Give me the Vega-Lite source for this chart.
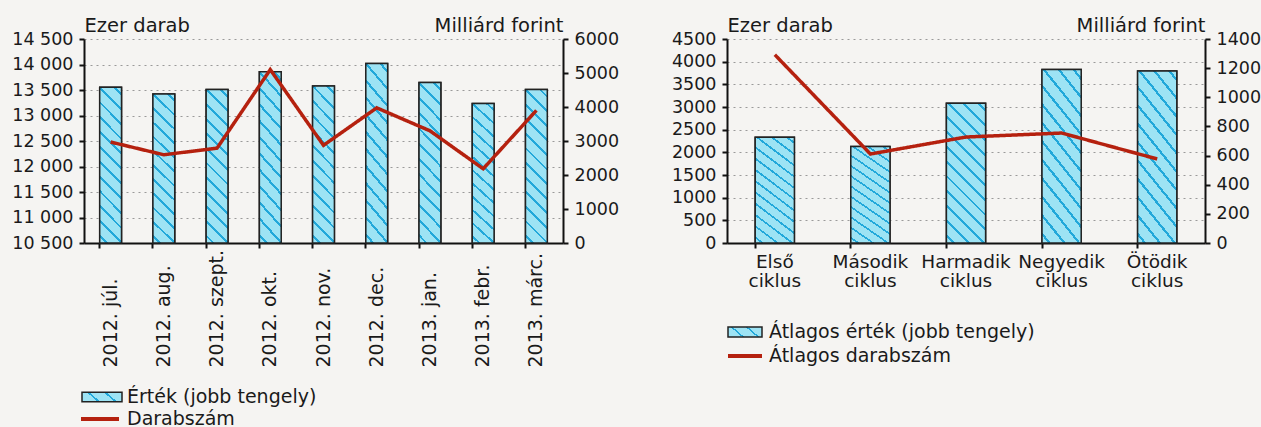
{
  "$schema": "https://vega.github.io/schema/vega-lite/v6.json",
  "background": "#f5f4f2",
  "padding": {"left": 11, "top": 15, "right": 0, "bottom": 0},
  "spacing": 52,
  "resolve": {"scale": {"stroke": "independent", "strokeDash": "independent"}, "legend": {"stroke": "independent", "strokeDash": "independent"}},
  "config": {
    "view": {"stroke": null},
    "font": "DejaVu Sans",
    "axis": {
      "labelFont": "DejaVu Sans", "labelFontSize": 17.5, "labelColor": "#1a1a1a",
      "titleFont": "DejaVu Sans", "titleFontSize": 19.5, "titleFontWeight": "normal", "titleColor": "#1a1a1a",
      "domainColor": "#111111", "domainWidth": 2, "tickColor": "#111111", "tickWidth": 2, "tickSize": 5,
      "labelPadding": 6, "grid": false
    },
    "legend": {"labelFont": "DejaVu Sans", "labelFontSize": 19, "labelColor": "#1a1a1a", "labelLimit": 400, "padding": 0}
  },
  "hconcat": [
    {
      "width": 479,
      "height": 204,
      "data": {"values": [
        {"honap": "2012. júl.", "darab": 12480, "ertek": 4580},
        {"honap": "2012. aug.", "darab": 12230, "ertek": 4385},
        {"honap": "2012. szept.", "darab": 12360, "ertek": 4515},
        {"honap": "2012. okt.", "darab": 13900, "ertek": 5035},
        {"honap": "2012. nov.", "darab": 12415, "ertek": 4620},
        {"honap": "2012. dec.", "darab": 13150, "ertek": 5280},
        {"honap": "2013. jan.", "darab": 12700, "ertek": 4720},
        {"honap": "2013. febr.", "darab": 11955, "ertek": 4100},
        {"honap": "2013. márc.", "darab": 13100, "ertek": 4515}
      ]},
      "resolve": {"scale": {"y": "independent"}, "axis": {"x": "independent"}},
      "layer": [
        {
          "mark": {"type": "bar", "strokeWidth": 1.5, "fill": {"gradient": "linear", "x1": 0, "y1": 1, "x2": 1.185, "y2": 0.674, "stops": [
            {"offset": 0, "color": "#9de3f4"}, {"offset": 0.31, "color": "#9de3f4"}, {"offset": 0.31, "color": "#22a8da"}, {"offset": 0.36, "color": "#22a8da"}, {"offset": 0.36, "color": "#9de3f4"},
            {"offset": 0.64, "color": "#9de3f4"}, {"offset": 0.64, "color": "#22a8da"}, {"offset": 0.69, "color": "#22a8da"}, {"offset": 0.69, "color": "#9de3f4"}, {"offset": 1, "color": "#9de3f4"}
          ]}},
          "encoding": {
            "x": {"field": "honap", "type": "nominal", "sort": null, "axis": null},
            "y": {"field": "ertek", "type": "quantitative", "scale": {"domain": [0, 6000], "nice": false}, "axis": null},
            "stroke": {"datum": "Érték (jobb tengely)",
              "scale": {"range": ["#222222"]},
              "legend": {"title": null, "orient": "none", "legendX": -3, "legendY": 337,
                "symbolType": "M-1,-0.24L1,-0.24L1,0.24L-1,0.24Z", "symbolSize": 1600, "symbolStrokeWidth": 1.5, "labelOffset": 4}}
          }
        },
        {
          "mark": {"type": "bar", "strokeWidth": 1.5, "stroke": "#222222", "fill": {"gradient": "linear", "x1": 0, "y1": 1, "x2": 0.159, "y2": -0.12, "stops": [
            {"offset": 0, "color": "#9de3f4"},
            {"offset": 0.0337, "color": "#9de3f4"}, {"offset": 0.0337, "color": "#22a8da"}, {"offset": 0.0497, "color": "#22a8da"}, {"offset": 0.0497, "color": "#9de3f4"},
            {"offset": 0.117, "color": "#9de3f4"}, {"offset": 0.117, "color": "#22a8da"}, {"offset": 0.133, "color": "#22a8da"}, {"offset": 0.133, "color": "#9de3f4"},
            {"offset": 0.2003, "color": "#9de3f4"}, {"offset": 0.2003, "color": "#22a8da"}, {"offset": 0.2163, "color": "#22a8da"}, {"offset": 0.2163, "color": "#9de3f4"},
            {"offset": 0.2837, "color": "#9de3f4"}, {"offset": 0.2837, "color": "#22a8da"}, {"offset": 0.2997, "color": "#22a8da"}, {"offset": 0.2997, "color": "#9de3f4"},
            {"offset": 0.367, "color": "#9de3f4"}, {"offset": 0.367, "color": "#22a8da"}, {"offset": 0.383, "color": "#22a8da"}, {"offset": 0.383, "color": "#9de3f4"},
            {"offset": 0.4503, "color": "#9de3f4"}, {"offset": 0.4503, "color": "#22a8da"}, {"offset": 0.4663, "color": "#22a8da"}, {"offset": 0.4663, "color": "#9de3f4"},
            {"offset": 0.5337, "color": "#9de3f4"}, {"offset": 0.5337, "color": "#22a8da"}, {"offset": 0.5497, "color": "#22a8da"}, {"offset": 0.5497, "color": "#9de3f4"},
            {"offset": 0.617, "color": "#9de3f4"}, {"offset": 0.617, "color": "#22a8da"}, {"offset": 0.633, "color": "#22a8da"}, {"offset": 0.633, "color": "#9de3f4"},
            {"offset": 0.7003, "color": "#9de3f4"}, {"offset": 0.7003, "color": "#22a8da"}, {"offset": 0.7163, "color": "#22a8da"}, {"offset": 0.7163, "color": "#9de3f4"},
            {"offset": 0.7837, "color": "#9de3f4"}, {"offset": 0.7837, "color": "#22a8da"}, {"offset": 0.7997, "color": "#22a8da"}, {"offset": 0.7997, "color": "#9de3f4"},
            {"offset": 0.867, "color": "#9de3f4"}, {"offset": 0.867, "color": "#22a8da"}, {"offset": 0.883, "color": "#22a8da"}, {"offset": 0.883, "color": "#9de3f4"},
            {"offset": 0.9503, "color": "#9de3f4"}, {"offset": 0.9503, "color": "#22a8da"}, {"offset": 0.9663, "color": "#22a8da"}, {"offset": 0.9663, "color": "#9de3f4"},
            {"offset": 1, "color": "#9de3f4"}
          ]}},
          "encoding": {
            "x": {"field": "honap", "type": "nominal", "sort": null,
              "scale": {"paddingInner": 0.59, "paddingOuter": 0.295},
              "axis": {"title": null, "orient": "bottom", "ticks": false, "tickSize": 0, "domain": true,
                "labelAngle": -90, "labelAlign": "left", "labelBaseline": "middle", "labelPadding": 124,
                "labelFontSize": 19, "labelOverlap": false, "labelBound": false, "labelLimit": 300}},
            "y": {"field": "ertek", "type": "quantitative",
              "scale": {"domain": [0, 6000], "nice": false},
              "axis": {"orient": "right", "values": [0, 1000, 2000, 3000, 4000, 5000, 6000], "format": "d",
                "title": "Milliárd forint", "titleAngle": 0, "titleX": 0, "titleY": -8, "titleAlign": "right", "titleBaseline": "alphabetic", "grid": false}}
          }
        },
        {
          "mark": {"type": "line", "strokeWidth": 3.5, "color": "#b5210f"},
          "encoding": {
            "x": {"field": "honap", "type": "nominal", "sort": null,
              "axis": {"title": null, "orient": "bottom", "labels": false, "ticks": true, "domain": false, "bandPosition": 0}},
            "y": {"field": "darab", "type": "quantitative",
              "scale": {"domain": [10500, 14500], "nice": false, "zero": false},
              "axis": {"orient": "left", "values": [10500, 11000, 11500, 12000, 12500, 13000, 13500, 14000, 14500],
                "labelExpr": "replace(format(datum.value, ','), ',', ' ')",
                "title": "Ezer darab", "titleAngle": 0, "titleX": 0, "titleY": -8, "titleAlign": "left", "titleBaseline": "alphabetic",
                "grid": true, "gridColor": "#9a9a9a", "gridDash": [2, 4], "gridWidth": 1}},
            "strokeDash": {"datum": "Darabszám",
              "scale": {"range": [[1, 0]]},
              "legend": {"title": null, "orient": "none", "legendX": -5, "legendY": 359,
                "symbolType": "stroke", "symbolSize": 1444, "symbolStrokeWidth": 4, "symbolStrokeColor": "#b5210f", "labelOffset": 6}}
          }
        }
      ]
    },
    {
      "width": 478,
      "height": 204,
      "data": {"values": [
        {"ciklus": "Első ciklus", "darab": 4154, "ertek": 725},
        {"ciklus": "Második ciklus", "darab": 1963, "ertek": 663},
        {"ciklus": "Harmadik ciklus", "darab": 2338, "ertek": 959},
        {"ciklus": "Negyedik ciklus", "darab": 2426, "ertek": 1190},
        {"ciklus": "Ötödik ciklus", "darab": 1853, "ertek": 1181}
      ]},
      "resolve": {"scale": {"y": "independent"}, "axis": {"x": "independent"}},
      "layer": [
        {
          "mark": {"type": "bar", "strokeWidth": 1.5, "fill": {"gradient": "linear", "x1": 0, "y1": 1, "x2": 1.203, "y2": 0.576, "stops": [
            {"offset": 0, "color": "#9de3f4"}, {"offset": 0.31, "color": "#9de3f4"}, {"offset": 0.31, "color": "#22a8da"}, {"offset": 0.36, "color": "#22a8da"}, {"offset": 0.36, "color": "#9de3f4"},
            {"offset": 0.64, "color": "#9de3f4"}, {"offset": 0.64, "color": "#22a8da"}, {"offset": 0.69, "color": "#22a8da"}, {"offset": 0.69, "color": "#9de3f4"}, {"offset": 1, "color": "#9de3f4"}
          ]}},
          "encoding": {
            "x": {"field": "ciklus", "type": "nominal", "sort": null, "axis": null},
            "y": {"field": "ertek", "type": "quantitative", "scale": {"domain": [0, 1400], "nice": false}, "axis": null},
            "stroke": {"datum": "Átlagos érték (jobb tengely)",
              "scale": {"range": ["#222222"]},
              "legend": {"title": null, "orient": "none", "legendX": 0, "legendY": 275,
                "symbolType": "M-1,-0.3L1,-0.3L1,0.3L-1,0.3Z", "symbolSize": 1156, "symbolStrokeWidth": 1.5, "labelOffset": 6}}
          }
        },
        {
          "mark": {"type": "bar", "strokeWidth": 1.5, "stroke": "#222222", "fill": {"gradient": "linear", "x1": 0, "y1": 1, "x2": 0.333, "y2": -0.187, "stops": [
            {"offset": 0, "color": "#9de3f4"},
            {"offset": 0.0337, "color": "#9de3f4"}, {"offset": 0.0337, "color": "#22a8da"}, {"offset": 0.0497, "color": "#22a8da"}, {"offset": 0.0497, "color": "#9de3f4"},
            {"offset": 0.117, "color": "#9de3f4"}, {"offset": 0.117, "color": "#22a8da"}, {"offset": 0.133, "color": "#22a8da"}, {"offset": 0.133, "color": "#9de3f4"},
            {"offset": 0.2003, "color": "#9de3f4"}, {"offset": 0.2003, "color": "#22a8da"}, {"offset": 0.2163, "color": "#22a8da"}, {"offset": 0.2163, "color": "#9de3f4"},
            {"offset": 0.2837, "color": "#9de3f4"}, {"offset": 0.2837, "color": "#22a8da"}, {"offset": 0.2997, "color": "#22a8da"}, {"offset": 0.2997, "color": "#9de3f4"},
            {"offset": 0.367, "color": "#9de3f4"}, {"offset": 0.367, "color": "#22a8da"}, {"offset": 0.383, "color": "#22a8da"}, {"offset": 0.383, "color": "#9de3f4"},
            {"offset": 0.4503, "color": "#9de3f4"}, {"offset": 0.4503, "color": "#22a8da"}, {"offset": 0.4663, "color": "#22a8da"}, {"offset": 0.4663, "color": "#9de3f4"},
            {"offset": 0.5337, "color": "#9de3f4"}, {"offset": 0.5337, "color": "#22a8da"}, {"offset": 0.5497, "color": "#22a8da"}, {"offset": 0.5497, "color": "#9de3f4"},
            {"offset": 0.617, "color": "#9de3f4"}, {"offset": 0.617, "color": "#22a8da"}, {"offset": 0.633, "color": "#22a8da"}, {"offset": 0.633, "color": "#9de3f4"},
            {"offset": 0.7003, "color": "#9de3f4"}, {"offset": 0.7003, "color": "#22a8da"}, {"offset": 0.7163, "color": "#22a8da"}, {"offset": 0.7163, "color": "#9de3f4"},
            {"offset": 0.7837, "color": "#9de3f4"}, {"offset": 0.7837, "color": "#22a8da"}, {"offset": 0.7997, "color": "#22a8da"}, {"offset": 0.7997, "color": "#9de3f4"},
            {"offset": 0.867, "color": "#9de3f4"}, {"offset": 0.867, "color": "#22a8da"}, {"offset": 0.883, "color": "#22a8da"}, {"offset": 0.883, "color": "#9de3f4"},
            {"offset": 0.9503, "color": "#9de3f4"}, {"offset": 0.9503, "color": "#22a8da"}, {"offset": 0.9663, "color": "#22a8da"}, {"offset": 0.9663, "color": "#9de3f4"},
            {"offset": 1, "color": "#9de3f4"}
          ]}},
          "encoding": {
            "x": {"field": "ciklus", "type": "nominal", "sort": null,
              "scale": {"paddingInner": 0.59, "paddingOuter": 0.295},
              "axis": {"title": null, "orient": "bottom", "ticks": false, "tickSize": 0, "domain": true,
                "labelAngle": 0, "labelAlign": "center", "labelBaseline": "top", "labelPadding": 9,
                "labelFontSize": 18.5, "labelLineHeight": 19.5, "labelExpr": "split(datum.label, ' ')", "labelOverlap": false, "labelBound": false}},
            "y": {"field": "ertek", "type": "quantitative",
              "scale": {"domain": [0, 1400], "nice": false},
              "axis": {"orient": "right", "values": [0, 200, 400, 600, 800, 1000, 1200, 1400], "format": "d",
                "title": "Milliárd forint", "titleAngle": 0, "titleX": 0, "titleY": -8, "titleAlign": "right", "titleBaseline": "alphabetic", "grid": false}}
          }
        },
        {
          "mark": {"type": "line", "strokeWidth": 3.5, "color": "#b5210f"},
          "encoding": {
            "x": {"field": "ciklus", "type": "nominal", "sort": null,
              "axis": {"title": null, "orient": "bottom", "labels": false, "ticks": true, "domain": false, "bandPosition": 0}},
            "y": {"field": "darab", "type": "quantitative",
              "scale": {"domain": [0, 4500], "nice": false},
              "axis": {"orient": "left", "values": [0, 500, 1000, 1500, 2000, 2500, 3000, 3500, 4000, 4500], "format": "d",
                "title": "Ezer darab", "titleAngle": 0, "titleX": 0, "titleY": -8, "titleAlign": "left", "titleBaseline": "alphabetic",
                "grid": true, "gridColor": "#9a9a9a", "gridDash": [2, 4], "gridWidth": 1}},
            "strokeDash": {"datum": "Átlagos darabszám",
              "scale": {"range": [[1, 0]]},
              "legend": {"title": null, "orient": "none", "legendX": -1, "legendY": 298,
                "symbolType": "stroke", "symbolSize": 1156, "symbolStrokeWidth": 4, "symbolStrokeColor": "#b5210f", "labelOffset": 5}}
          }
        }
      ]
    }
  ]
}
